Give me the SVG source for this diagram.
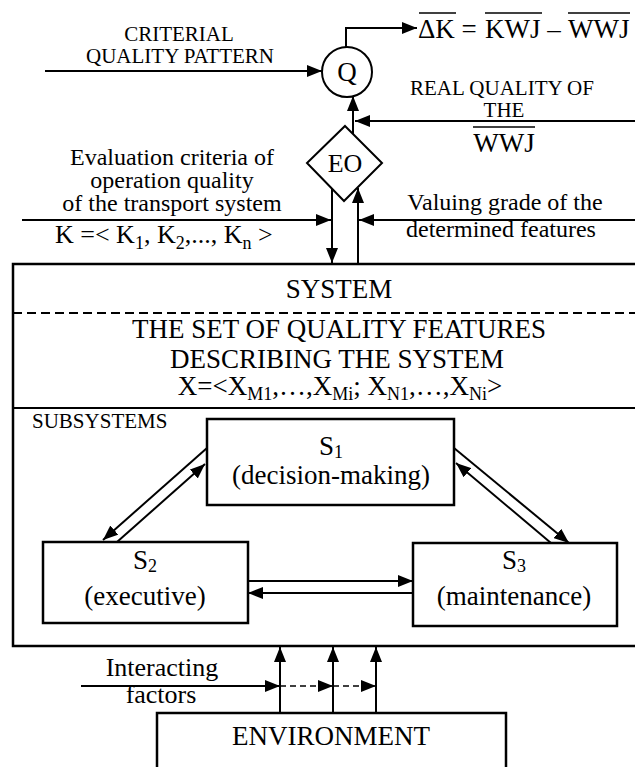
<svg xmlns="http://www.w3.org/2000/svg" width="635" height="767" viewBox="0 0 635 767">
<style>
text{font-family:'Liberation Serif','Times New Roman','DejaVu Serif',serif;fill:#000}
.lbl{font-size:21px}
.mid{font-size:24px}
.big{font-size:27px}
.k{font-size:26px}
.il{font-size:26px}
.c{text-anchor:middle}
.box{fill:#fff;stroke:#000;stroke-width:2.5}
.ln{fill:none;stroke:#000;stroke-width:2}
.dash{fill:none;stroke:#000;stroke-width:1.5;stroke-dasharray:6 4}
</style>
<defs>
<marker id="ah" markerUnits="userSpaceOnUse" markerWidth="15" markerHeight="12" refX="15" refY="6" orient="auto">
<path d="M0,0 L15,6 L0,12 z" fill="#000"/>
</marker>
</defs>

<g id="system">
<rect x="13" y="264" width="630" height="382" class="box" stroke-width="3"/>
<line x1="13" y1="313" x2="635" y2="313" stroke="#000" stroke-width="2" stroke-dasharray="9 5"/>
<line x1="13" y1="408" x2="635" y2="408" stroke="#000" stroke-width="2"/>
<text x="339" y="298" class="big c">SYSTEM</text>
<text x="339" y="338" class="big c">THE SET OF QUALITY FEATURES</text>
<text x="337" y="368" class="big c">DESCRIBING THE SYSTEM</text>
<text x="340" y="395" class="big c">X=&lt;X<tspan font-size="18" dy="5">M1</tspan><tspan dy="-5">,…,X</tspan><tspan font-size="18" dy="5">Mi</tspan><tspan dy="-5">; X</tspan><tspan font-size="18" dy="5">N1</tspan><tspan dy="-5">,…,X</tspan><tspan font-size="18" dy="5">Ni</tspan><tspan dy="-5">&gt;</tspan></text>
<text x="32" y="428" class="lbl">SUBSYSTEMS</text>
</g>

<g id="Q">
<circle cx="347" cy="72" r="25" fill="#fff" stroke="#000" stroke-width="2"/>
<text x="347" y="81" class="big c">Q</text>
</g>

<g id="EO">
<polygon points="345,126 382,163 344,201 307,163" fill="#fff" stroke="#000" stroke-width="2"/>
<text x="345" y="172" class="k c">EO</text>
</g>

<g id="S1">
<rect x="207" y="419" width="247" height="86" class="box"/>
<text x="331" y="455" class="big c">S<tspan font-size="18" dy="3">1</tspan></text>
<text x="331" y="484" class="big c">(decision-making)</text>
</g>

<g id="S2">
<rect x="43" y="542" width="205" height="81" class="box"/>
<text x="145" y="569" class="big c">S<tspan font-size="18" dy="3">2</tspan></text>
<text x="145" y="605" class="big c">(executive)</text>
</g>

<g id="S3">
<rect x="413" y="543" width="204" height="83" class="box"/>
<text x="514" y="569" class="big c">S<tspan font-size="18" dy="3">3</tspan></text>
<text x="514" y="605" class="big c">(maintenance)</text>
</g>

<g id="ENVIRONMENT">
<rect x="157" y="713" width="349" height="70" class="box"/>
<text x="331" y="745" class="big c">ENVIRONMENT</text>
</g>

<g id="connectors">
<path d="M346,47 V28 H417" class="ln" marker-end="url(#ah)"/>
<path d="M45,71 H322" class="ln" marker-end="url(#ah)"/>
<path d="M353,134 V96" class="ln" marker-end="url(#ah)"/>
<path d="M635,121 H355" class="ln" marker-end="url(#ah)"/>
<path d="M332,189 V263" class="ln" marker-end="url(#ah)"/>
<path d="M358,264 V188" class="ln" marker-end="url(#ah)"/>
<path d="M22,220 H331" class="ln" marker-end="url(#ah)"/>
<path d="M635,220 H359" class="ln" marker-end="url(#ah)"/>
<path d="M207,448 L103,540" class="ln" marker-end="url(#ah)"/>
<path d="M117,542 L205,464" class="ln" marker-end="url(#ah)"/>
<path d="M454,448 L569,543" class="ln" marker-end="url(#ah)"/>
<path d="M551,543 L456,463" class="ln" marker-end="url(#ah)"/>
<path d="M248,581 H413" class="ln" marker-end="url(#ah)"/>
<path d="M413,593 H248" class="ln" marker-end="url(#ah)"/>
<path d="M280,713 V647" class="ln" marker-end="url(#ah)"/>
<path d="M333,713 V647" class="ln" marker-end="url(#ah)"/>
<path d="M376,713 V647" class="ln" marker-end="url(#ah)"/>
<path d="M81,686 H280" class="ln" stroke-width="1.5" marker-end="url(#ah)"/>
<path d="M280,686 H333" class="dash" marker-end="url(#ah)"/>
<path d="M333,686 H376" class="dash" marker-end="url(#ah)"/>
</g>

<g id="labels">
<text x="179" y="41" class="lbl c">CRITERIAL</text>
<text x="180" y="63" class="lbl c">QUALITY PATTERN</text>
<text y="38" class="big"><tspan x="418">ΔK</tspan><tspan x="469" text-anchor="middle">=</tspan><tspan x="485">KWJ</tspan><tspan x="554" text-anchor="middle">–</tspan><tspan x="568">WWJ</tspan></text>
<line x1="419" y1="13" x2="456" y2="13" stroke="#000" stroke-width="1.5"/>
<line x1="485" y1="13" x2="542" y2="13" stroke="#000" stroke-width="1.5"/>
<line x1="568" y1="13" x2="630" y2="13" stroke="#000" stroke-width="1.5"/>
<text x="502" y="95" class="lbl c">REAL QUALITY OF</text>
<text x="504" y="117" class="lbl c">THE</text>
<text x="504" y="152" class="big c">WWJ</text>
<line x1="473" y1="127" x2="535" y2="127" stroke="#000" stroke-width="1.5"/>
<text x="172" y="165" class="mid c">Evaluation criteria of</text>
<text x="172" y="188" class="mid c">operation quality</text>
<text x="172" y="211" class="mid c">of the transport system</text>
<text x="55" y="243" class="k">K =&lt; K<tspan font-size="18" dy="6">1</tspan><tspan dy="-6">, K</tspan><tspan font-size="18" dy="6">2</tspan><tspan dy="-6">,..., K</tspan><tspan font-size="18" dy="6">n</tspan><tspan dy="-6"> &gt;</tspan></text>
<text x="505" y="210" class="mid c">Valuing grade of the</text>
<text x="501" y="237" class="mid c">determined features</text>
<text x="162" y="676" class="il c">Interacting</text>
<text x="161" y="703" class="il c">factors</text>
</g>
</svg>
